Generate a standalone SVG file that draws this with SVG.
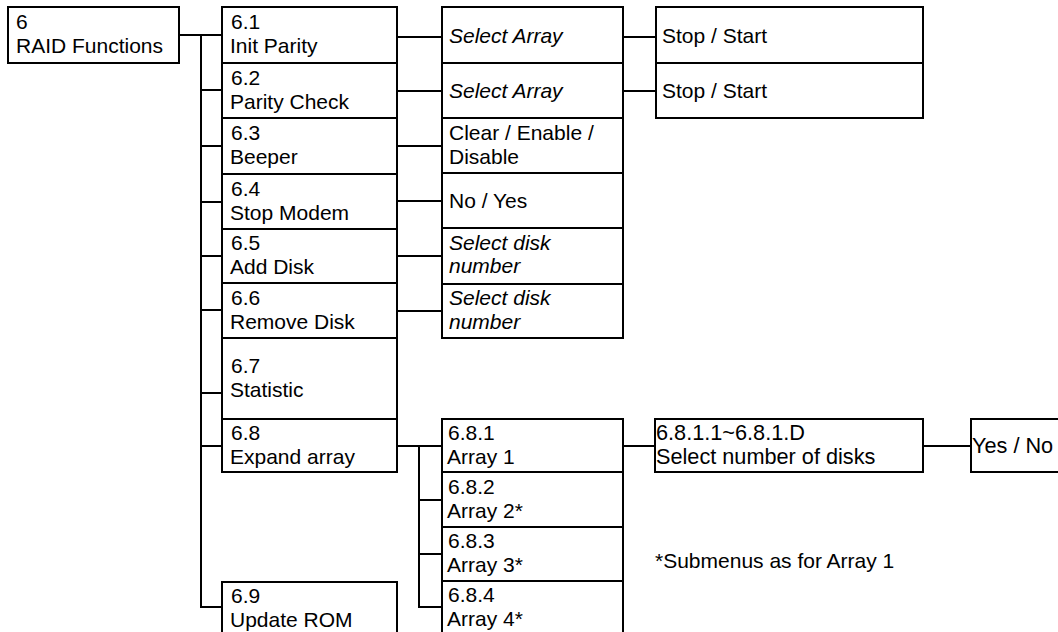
<svg xmlns="http://www.w3.org/2000/svg" width="1058" height="632" viewBox="0 0 1058 632">
<style>
rect.b{fill:#fff;stroke:#000;stroke-width:2}
.c line{stroke:#000;stroke-width:2}
text{font-family:"Liberation Sans",Arial,sans-serif;font-size:21px;fill:#000}
text.i{font-style:italic}
text.l{font-size:21.7px}
</style>
<rect width="1058" height="632" fill="#fff"/>
<g class="c" id="connectors">
<line x1="179" y1="35" x2="222" y2="35"/>
<line x1="201" y1="35" x2="201" y2="608"/>
<line x1="200" y1="90" x2="222" y2="90"/>
<line x1="200" y1="146" x2="222" y2="146"/>
<line x1="200" y1="202" x2="222" y2="202"/>
<line x1="200" y1="256" x2="222" y2="256"/>
<line x1="200" y1="310" x2="222" y2="310"/>
<line x1="200" y1="393" x2="222" y2="393"/>
<line x1="200" y1="446" x2="222" y2="446"/>
<line x1="200" y1="607" x2="222" y2="607"/>
<line x1="397" y1="37" x2="442" y2="37"/>
<line x1="397" y1="91" x2="442" y2="91"/>
<line x1="397" y1="146" x2="442" y2="146"/>
<line x1="397" y1="201" x2="442" y2="201"/>
<line x1="397" y1="256" x2="442" y2="256"/>
<line x1="397" y1="311" x2="442" y2="311"/>
<line x1="623" y1="37" x2="656" y2="37"/>
<line x1="623" y1="91" x2="656" y2="91"/>
<line x1="397" y1="446" x2="442" y2="446"/>
<line x1="419" y1="446" x2="419" y2="608"/>
<line x1="418" y1="500" x2="442" y2="500"/>
<line x1="418" y1="554" x2="442" y2="554"/>
<line x1="418" y1="607" x2="442" y2="607"/>
<line x1="623" y1="446" x2="655" y2="446"/>
<line x1="923" y1="446" x2="971" y2="446"/>
</g>
<g id="n6"><rect class="b" x="8" y="7" width="171" height="56"/><text x="16" y="28.5">6</text><text x="16" y="52.5">RAID Functions</text></g>
<g id="n6_1"><rect class="b" x="222" y="7" width="175" height="56"/><text x="231" y="28.5">6.1</text><text x="230" y="52.5">Init Parity</text></g>
<g id="n6_2"><rect class="b" x="222" y="63" width="175" height="55"/><text x="231" y="84.5">6.2</text><text x="230" y="108.5">Parity Check</text></g>
<g id="n6_3"><rect class="b" x="222" y="118" width="175" height="56"/><text x="231" y="139.5">6.3</text><text x="230" y="163.5">Beeper</text></g>
<g id="n6_4"><rect class="b" x="222" y="174" width="175" height="55"/><text x="231" y="195.5">6.4</text><text x="230" y="219.5">Stop Modem</text></g>
<g id="n6_5"><rect class="b" x="222" y="229" width="175" height="54"/><text x="231" y="250">6.5</text><text x="230" y="274">Add Disk</text></g>
<g id="n6_6"><rect class="b" x="222" y="283" width="175" height="55"/><text x="231" y="304.5">6.6</text><text x="230" y="328.5">Remove Disk</text></g>
<g id="n6_7"><rect class="b" x="222" y="338" width="175" height="81"/><text x="231" y="373">6.7</text><text x="230" y="397">Statistic</text></g>
<g id="n6_8"><rect class="b" x="222" y="419" width="175" height="53"/><text x="231" y="440">6.8</text><text x="230" y="464">Expand array</text></g>
<g id="n6_9"><rect class="b" x="222" y="582" width="175" height="60"/><text x="231" y="602.5">6.9</text><text x="230" y="626.5">Update ROM</text></g>
<g id="s6_1"><rect class="b" x="442" y="7" width="181" height="56"/><text class="i" x="449" y="42.5">Select Array</text></g>
<g id="s6_2"><rect class="b" x="442" y="63" width="181" height="55"/><text class="i" x="449" y="98">Select Array</text></g>
<g id="s6_3"><rect class="b" x="442" y="118" width="181" height="55"/><text x="449" y="139.5">Clear / Enable /</text><text x="449" y="163.5">Disable</text></g>
<g id="s6_4"><rect class="b" x="442" y="173" width="181" height="55"/><text x="449" y="208">No / Yes</text></g>
<g id="s6_5"><rect class="b" x="442" y="228" width="181" height="56"/><text class="i" x="449" y="249.5">Select disk</text><text class="i" x="449" y="273">number</text></g>
<g id="s6_6"><rect class="b" x="442" y="284" width="181" height="54"/><text class="i" x="449" y="305">Select disk</text><text class="i" x="449" y="328.5">number</text></g>
<g id="t6_1"><rect class="b" x="656" y="7" width="267" height="56"/><text x="662" y="42.5">Stop / Start</text></g>
<g id="t6_2"><rect class="b" x="656" y="63" width="267" height="55"/><text x="662" y="98">Stop / Start</text></g>
<g id="n6_8_1"><rect class="b" x="442" y="419" width="181" height="53"/><text x="448" y="440">6.8.1</text><text x="447" y="464">Array 1</text></g>
<g id="n6_8_2"><rect class="b" x="442" y="472" width="181" height="55"/><text x="448" y="493.5">6.8.2</text><text x="447" y="517.5">Array 2*</text></g>
<g id="n6_8_3"><rect class="b" x="442" y="527" width="181" height="54"/><text x="448" y="548">6.8.3</text><text x="447" y="572">Array 3*</text></g>
<g id="n6_8_4"><rect class="b" x="442" y="581" width="181" height="61"/><text x="448" y="602">6.8.4</text><text x="447" y="626">Array 4*</text></g>
<g id="n6_8_1_1"><rect class="b" x="655" y="419" width="268" height="53"/><text class="l" x="656" y="440">6.8.1.1~6.8.1.D</text><text class="l" x="656" y="464">Select number of disks</text></g>
<g id="yesno"><rect class="b" x="971" y="419" width="100" height="53"/><text class="l" x="972" y="453">Yes / No</text></g>
<text id="note" x="655" y="568">*Submenus as for Array 1</text>
</svg>
